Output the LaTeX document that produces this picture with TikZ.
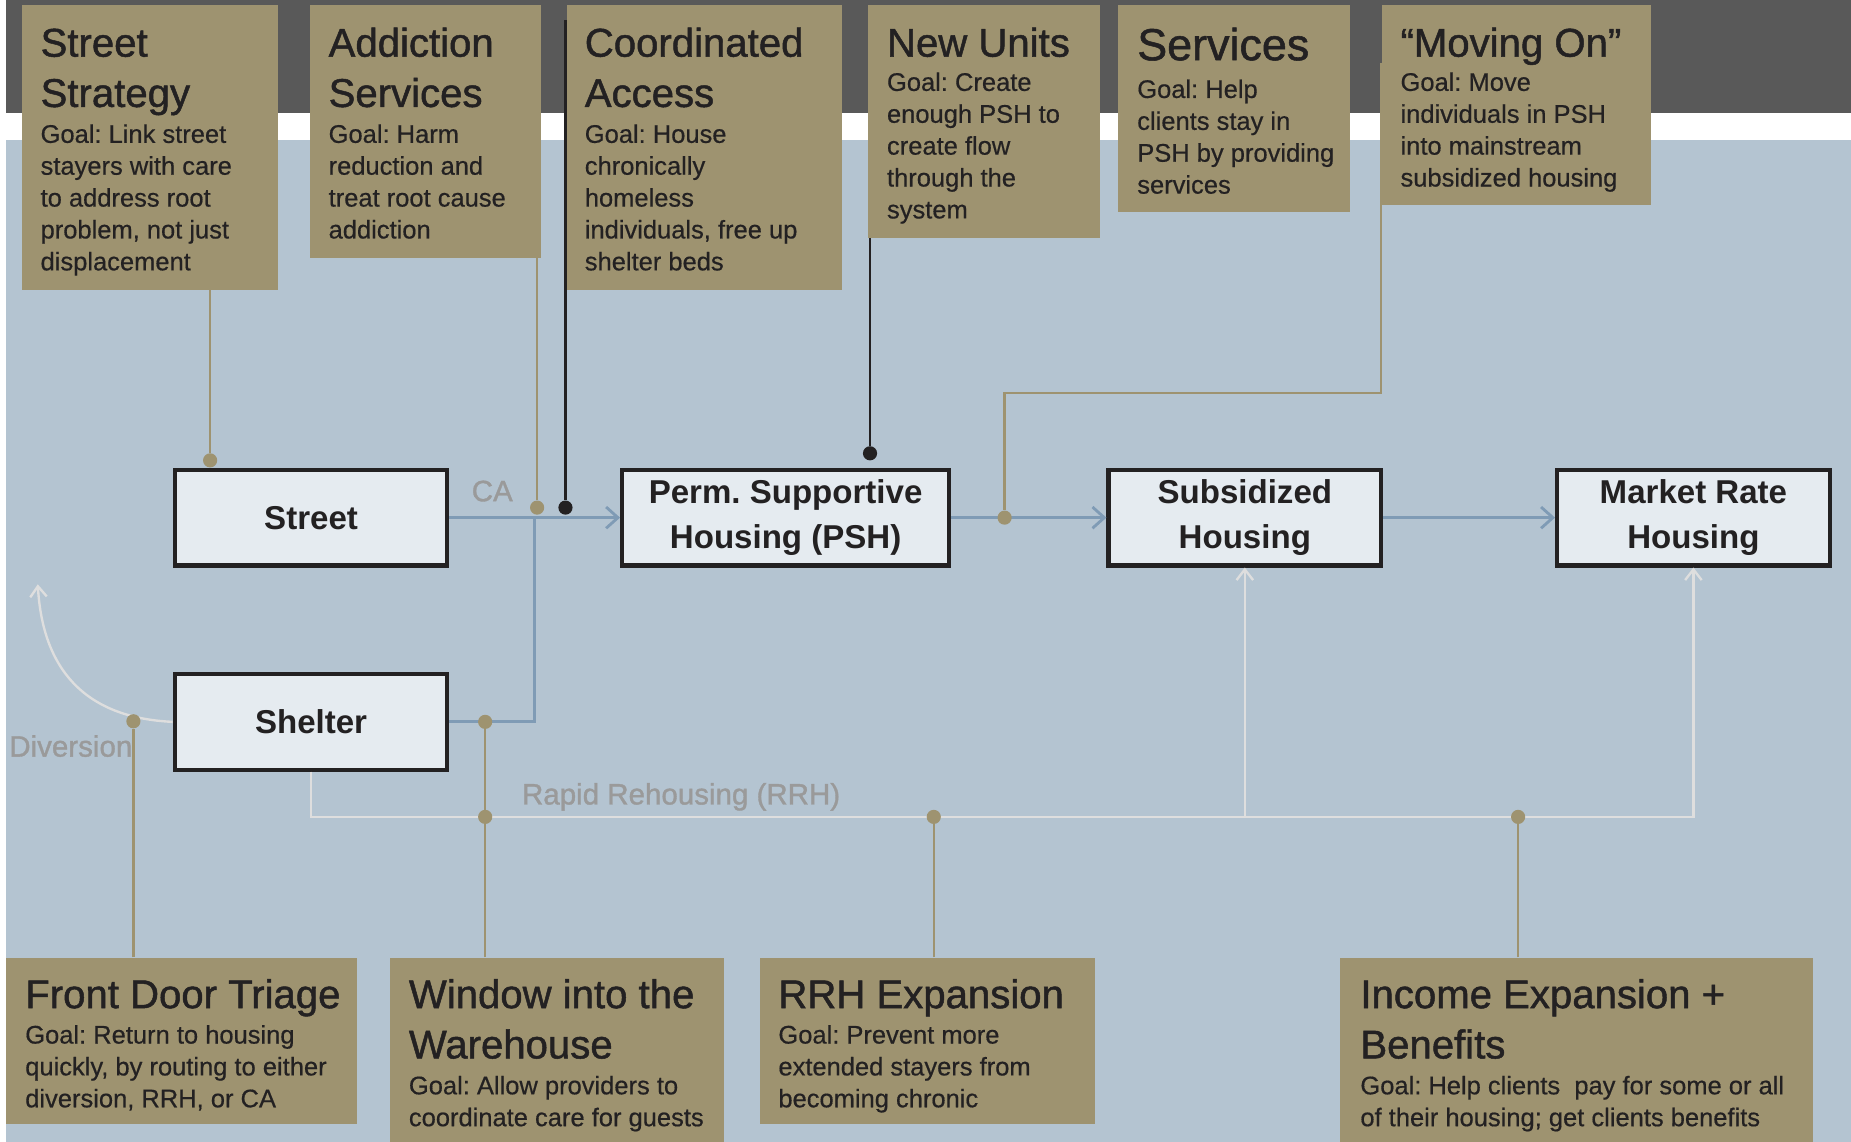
\documentclass[tikz,border=0pt]{standalone}
\usepackage{fontspec}
\setmainfont{Liberation Sans}[FakeBold=0.5]
\newfontfamily\headfont{Liberation Sans}[FakeBold=1.2]
\newfontfamily\placefont{Liberation Sans Bold}
\usetikzlibrary{arrows.meta}
\usetikzlibrary{positioning}

\definecolor{tan}{RGB}{158,147,112}
\definecolor{band}{RGB}{89,89,89}
\definecolor{sky}{RGB}{180,196,209}
\definecolor{boxfill}{RGB}{229,235,240}
\definecolor{ink}{RGB}{35,33,34}
\definecolor{flowblue}{RGB}{127,155,181}
\definecolor{rrhgray}{RGB}{222,222,222}
\definecolor{labelgray}{RGB}{154,154,154}

\frenchspacing

\begin{document}
\begin{tikzpicture}[x=0.5pt, y=-0.5pt,
    goalbox/.style={fill=tan, inner sep=0pt, anchor=north west},
    goaltitle/.style={anchor=base west, inner sep=0pt, align=left, text=ink,
        font=\headfont\fontsize{17}{21.3}\selectfont},
    goaltext/.style={anchor=base west, inner sep=0pt, align=left, text=ink,
        font=\fontsize{10.8}{13.5}\selectfont},
    place/.style={draw=ink, line width=1.75pt, fill=boxfill, inner sep=0pt,
        minimum width=115.5pt, minimum height=40.5pt, align=center, text=ink,
        font=\placefont\fontsize{14}{19}\selectfont},
    flow/.style={draw=flowblue, line width=1.2pt},
    flowtip/.style={-{Straight Barb[length=5pt,width=9pt]}},
    rrhline/.style={draw=rrhgray, line width=1pt},
    rrhtip/.style={-{Straight Barb[length=4.5pt,width=7pt]}},
    tanline/.style={draw=tan, line width=1pt},
    blackline/.style={draw=ink, line width=1pt},
    tandot/.style={circle, fill=tan, inner sep=0pt, minimum size=6pt},
    blackdot/.style={circle, fill=ink, inner sep=0pt, minimum size=6pt},
    note/.style={text=labelgray, inner sep=0pt, font=\headfont\fontsize{12.5}{15}\selectfont}
]
    \useasboundingbox (0,0) rectangle (1568,967);

    % backdrop
    \fill[white] (0,0) rectangle (1568,967);
    \fill[band] (5,0) rectangle (1568,96);
    \fill[sky] (5,119) rectangle (1568,967);

    % goal boxes, top row (text nodes sit on their last baseline)
    \node[goalbox, minimum width=108.5pt, minimum height=120.5pt] (strat) at (18,4) {};
    \node[goaltitle] (strat-t) at (34,90.6) {Street\\Strategy};
    \node[goaltext] (strat-g) at (34,229) {Goal: Link street\\stayers with care\\to address root\\problem, not just\\displacement};

    \node[goalbox, minimum width=98pt, minimum height=107pt] (addict) at (262,4) {};
    \node[goaltitle] (addict-t) at (278,90.6) {Addiction\\Services};
    \node[goaltext] (addict-g) at (278,202) {Goal: Harm\\reduction and\\treat root cause\\addiction};

    \node[goalbox, minimum width=116.5pt, minimum height=120.5pt] (coord) at (480,4) {};
    \node[goaltitle] (coord-t) at (495,90.6) {Coordinated\\Access};
    \node[goaltext] (coord-g) at (495,229) {Goal: House\\chronically\\homeless\\individuals, free up\\shelter beds};

    \node[goalbox, minimum width=98pt, minimum height=98.5pt] (units) at (735,4) {};
    \node[goaltitle] (units-t) at (751,48) {New Units};
    \node[goaltext] (units-g) at (751,185) {Goal: Create\\enough PSH to\\create flow\\through the\\system};

    \node[goalbox, minimum width=98pt, minimum height=87.5pt] (serv) at (947,4) {};
    \node[goaltitle, font=\headfont\fontsize{19}{23}\selectfont] (serv-t) at (963,51) {Services};
    \node[goaltext] (serv-g) at (963,164) {Goal: Help\\clients stay in\\PSH by providing\\services};

    \node[goalbox, minimum width=114pt, minimum height=84.5pt] (moving) at (1170,4) {};
    \node[goaltitle] (moving-t) at (1186,48) {“Moving On”};
    \node[goaltext] (moving-g) at (1186,158) {Goal: Move\\individuals in PSH\\into mainstream\\subsidized housing};

    % goal boxes, bottom row
    \node[goalbox, minimum width=148.5pt, minimum height=70.5pt] (front) at (5,811) {};
    \node[goaltitle] (front-t) at (21,854) {Front Door Triage};
    \node[goaltext] (front-g) at (21,938) {Goal: Return to housing\\quickly, by routing to either\\diversion, RRH, or CA};

    \node[goalbox, minimum width=141.5pt, minimum height=78pt] (window) at (330,811) {};
    \node[goaltitle] (window-t) at (346,896.6) {Window into the\\Warehouse};
    \node[goaltext] (window-g) at (346,954) {Goal: Allow providers to\\coordinate care for guests};

    \node[goalbox, minimum width=142pt, minimum height=70.5pt] (rrhx) at (643,811) {};
    \node[goaltitle] (rrhx-t) at (659,854) {RRH Expansion};
    \node[goaltext] (rrhx-g) at (659,938) {Goal: Prevent more\\extended stayers from\\becoming chronic};

    \node[goalbox, minimum width=200pt, minimum height=78pt] (income) at (1135,811) {};
    \node[goaltitle] (income-t) at (1152,896.6) {Income Expansion +\\Benefits};
    \node[goaltext] (income-g) at (1152,954) {Goal: Help clients\ \ pay for some or all\\of their housing; get clients benefits};

    % housing states
    \node[place] (street) at (263.5,438.5) {Street};
    \node[place, minimum width=138.5pt] (psh) at (665.5,438.5) {Perm. Supportive\\Housing (PSH)};
    \node[place] (subs) at (1054.5,438.5) {Subsidized\\Housing};
    \node[place] (market) at (1434.5,438.5) {Market Rate\\Housing};
    \node[place] (shelter) at (263.5,611.5) {Shelter};

    % main flow
    \coordinate (ca-join) at (453,438.5);
    \draw[flow, flowtip] (street) -- (psh);
    \draw[flow, flowtip] (psh) -- (subs);
    \draw[flow, flowtip] (subs) -- (market);
    \draw[flow] (shelter.east) -| (ca-join);

    % rapid rehousing and diversion
    \coordinate (rrh) at (0,692);
    \coordinate (div-tip) at (32,495);
    \draw[rrhline, rrhtip] (shelter.south) |- (rrh -| market) -- (market.south);
    \draw[rrhline, rrhtip] (rrh -| subs) -- (subs.south);
    \draw[rrhline, rrhtip] (shelter.west) .. controls (70,608) and (36,565) .. (div-tip);

    % links from goals
    \node[tandot] (d-strat) at (178,390) {};
    \draw[tanline] (strat.south -| d-strat) -- (d-strat);
    \node[tandot] (d-addict) at (455,430) {};
    \draw[tanline] (addict.south -| d-addict) -- (d-addict);
    \coordinate (coord-top) at (479,17);
    \node[blackdot] (d-coord) at (479,430) {};
    \draw[blackline] (coord-top) -- (d-coord);
    \node[blackdot] (d-units) at (737,384) {};
    \draw[blackline] (units.south -| d-units) -- (d-units);
    \coordinate (moving-top) at (1170,53);
    \coordinate (moving-bend) at (1170,333);
    \node[tandot] (d-moving) at (851,438.5) {};
    \draw[tanline] (moving-top) -- (moving-bend) -| (d-moving);

    \node[tandot] (d-front) at (113,611) {};
    \draw[tanline] (front.north -| d-front) -- (d-front);
    \node[tandot] (d-win1) at (411,611.5) {};
    \node[tandot] (d-win2) at (411,692) {};
    \draw[tanline] (window.north -| d-win1) -- (d-win1);
    \node[tandot] (d-rrhx) at (791,692) {};
    \draw[tanline] (rrhx.north -| d-rrhx) -- (d-rrhx);
    \node[tandot] (d-income) at (1286,692) {};
    \draw[tanline] (income.north -| d-income) -- (d-income);

    % labels
    \node[note] (ca) at (417,416) {CA};
    \node[note] (div) at (60,632) {Diversion};
    \node[note] (rrh-label) at (577,675) {Rapid Rehousing (RRH)};
\end{tikzpicture}
\end{document}
